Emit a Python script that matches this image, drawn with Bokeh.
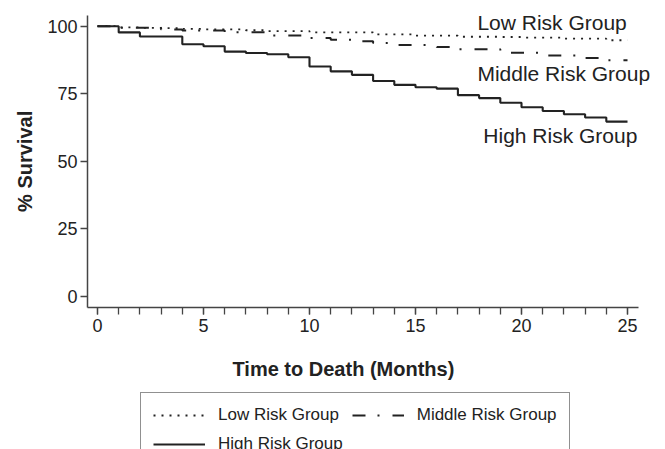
from bokeh.plotting import figure
from bokeh.models import Range1d, FixedTicker, Legend, LegendItem, Label
from bokeh.embed import file_html
from bokeh.resources import INLINE

# ---- data ----
months = list(range(0, 26))
low_risk = [100, 99.6, 99.4, 99.3, 99.0, 98.8, 98.8, 98.5, 98.2, 98.2, 97.7, 97.7, 97.7,
            97.0, 97.0, 96.5, 96.5, 96.1, 96.1, 96.0, 95.8, 95.8, 95.4, 95.4, 94.8, 94.8]
middle_risk = [100, 99.4, 99.4, 98.8, 98.4, 98.4, 97.8, 97.8, 96.6, 96.6, 95.6, 95.0, 94.4,
               93.8, 93.0, 93.0, 92.3, 91.5, 91.5, 90.2, 90.2, 89.2, 89.2, 88.2, 87.4, 87.4]
high_risk = [100, 97.7, 96.2, 96.2, 93.3, 92.6, 90.6, 90.1, 89.6, 88.5, 85.1, 83.3, 82.0,
             79.7, 78.3, 77.4, 76.9, 74.5, 73.4, 71.7, 70.0, 68.6, 67.4, 66.2, 64.7, 64.7]
group_names = ["Low Risk Group", "Middle Risk Group", "High Risk Group"]
x_ticks = [0, 5, 10, 15, 20, 25]
y_ticks = [0, 25, 50, 75, 100]

FONT = "Liberation Sans"
INK = "#222222"
AX = "#444444"

X0, X1 = -0.472, 25.52      # extent of the drawn x axis
Y0, Y1 = -4.07, 103.96      # extent of the drawn y axis

# the frame fills the whole canvas; axes are pinned inside it with fixed_location
p = figure(width=665, height=449, output_backend="svg", toolbar_location=None,
           x_range=Range1d(-4.575, 26.792), y_range=Range1d(-56.604, 109.508),
           min_border=0)
p.outline_line_color = None
p.xgrid.visible = False
p.ygrid.visible = False
p.background_fill_color = "white"
p.border_fill_color = "white"

r_low = p.step(months, low_risk, mode="after", line_color=INK, line_width=1.8, line_dash="2 6")
r_mid = p.step(months, middle_risk, mode="after", line_color=INK, line_width=2.0, line_dash="13 12 2 13")
r_high = p.step(months, high_risk, mode="after", line_color=INK, line_width=2.1)

# axes
xa = p.xaxis[0]
xa.fixed_location = Y0
xa.bounds = (X0, X1)
xa.ticker = FixedTicker(ticks=x_ticks, minor_ticks=months)
xa.major_tick_out = 7
xa.major_tick_in = 0
xa.minor_tick_out = 7
xa.minor_tick_in = 0
xa.major_tick_line_color = AX
xa.minor_tick_line_color = AX
xa.major_tick_line_width = 1.3
xa.minor_tick_line_width = 1.3
xa.axis_line_color = AX
xa.axis_line_width = 1.5
xa.major_label_text_font = FONT
xa.major_label_text_font_size = "18px"
xa.major_label_text_color = INK
xa.major_label_standoff = 4

ya = p.yaxis[0]
ya.fixed_location = X0
ya.bounds = (Y0, Y1)
ya.ticker = FixedTicker(ticks=y_ticks, minor_ticks=[])
ya.major_tick_out = 7
ya.major_tick_in = 0
ya.major_tick_line_color = AX
ya.major_tick_line_width = 1.3
ya.axis_line_color = AX
ya.axis_line_width = 1.5
ya.major_label_text_font = FONT
ya.major_label_text_font_size = "18px"
ya.major_label_text_color = INK
ya.major_label_standoff = 3
ya.major_label_orientation = "horizontal"

# axis titles
p.add_layout(Label(x=-3.396, y=50, text="% Survival", angle=90, angle_units="deg",
                   text_align="center", text_baseline="middle", text_font=FONT,
                   text_font_size="20px", text_font_style="bold", text_color=INK))
p.add_layout(Label(x=11.6, y=-26.9, text="Time to Death (Months)", text_align="center",
                   text_baseline="alphabetic", text_font=FONT, text_font_size="20px",
                   text_font_style="bold", text_color=INK))

# in-plot group labels
for name, lx, ly in zip(group_names, [17.92, 17.92, 18.2], [101.45, 82.4, 59.7]):
    p.add_layout(Label(x=lx, y=ly, text=name, text_align="left", text_baseline="alphabetic",
                       text_font=FONT, text_font_size="21px", text_color=INK))

legend = Legend(items=[LegendItem(label=group_names[0], renderers=[r_low]),
                       LegendItem(label=group_names[1], renderers=[r_mid]),
                       LegendItem(label=group_names[2], renderers=[r_high])],
                location=(140, -18), orientation="horizontal", ncols=2,
                glyph_width=52, glyph_height=20, label_height=20, label_standoff=13,
                spacing=9, padding=12, margin=0,
                label_text_font=FONT, label_text_font_size="17px", label_text_color=INK,
                border_line_color=INK, border_line_width=1.2,
                background_fill_color="white", background_fill_alpha=1.0)
p.add_layout(legend)

open("out.html", "w").write(file_html(p, INLINE))
